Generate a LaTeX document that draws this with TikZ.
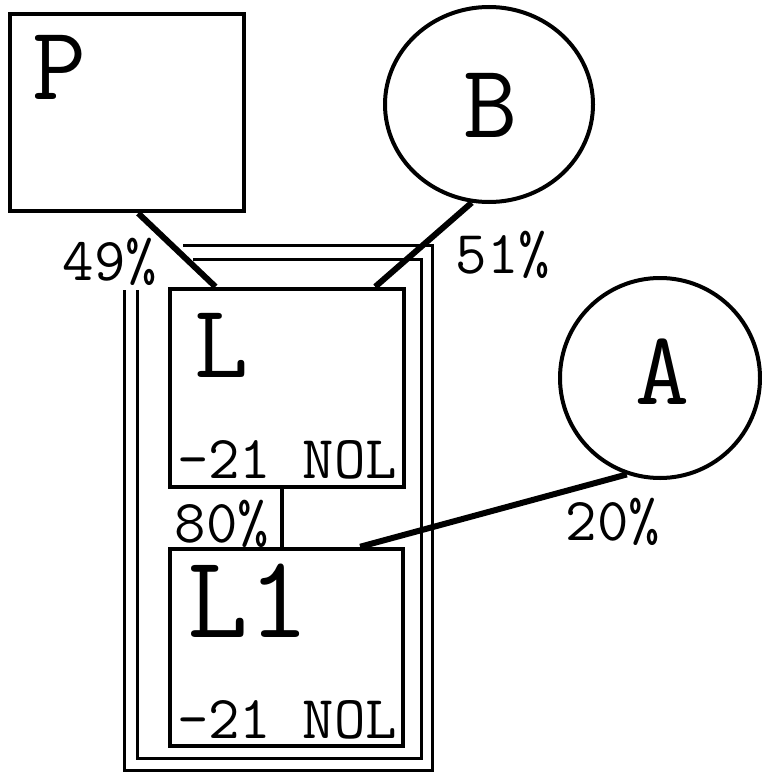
\documentclass[tikz,border=0pt]{standalone}
\usetikzlibrary{shapes.geometric,calc}

\tikzset{
  entity/.style={draw, rectangle, line width=4.5pt, inner sep=0pt, minimum width=234pt},
  owner/.style={draw, ellipse, line width=4pt, inner sep=0pt},
  share/.style={line width=6pt},
  frame/.style={line width=3pt},
  bigtxt/.style={font=\ttfamily\fontsize{105}{105}\selectfont, inner sep=0pt, anchor=base, text height=0.62em, text depth=0pt},
  smalltxt/.style={font=\ttfamily\fontsize{61}{61}\selectfont, inner sep=0pt, anchor=base, text height=0.62em, text depth=0pt},
}

\begin{document}
\begin{tikzpicture}[x=1pt,y=-1pt]
    \useasboundingbox (0,0) rectangle (762,773);
    %\draw[help lines,step=50] (0,0) grid (762,773);

    % companies
    \node[entity, minimum height=197pt] (P) at (127,112.5) {};
    \node[entity, minimum height=198pt] (L) at (287,388) {};
    \node[entity, minimum height=197pt, minimum width=233pt] (L1) at (286.5,647.5) {};
    \node[owner, minimum width=208pt, minimum height=195pt] (B) at (489,104.5) {};
    \node[owner, minimum width=200pt, minimum height=200pt] (A) at (660,378) {};

    % names
    \node[bigtxt] (Pname) at (60,100) {P};
    \node[bigtxt] (Bname) at (491,137) {B};
    \node[bigtxt] (Aname) at (663,404) {A};
    \node[bigtxt] (Lname) at (222,377) {L};
    \node[bigtxt, font=\ttfamily\fontsize{118}{118}\selectfont] (L1name) at (248,637) {L1};
    \node[smalltxt] (Lcode) at (287,478) {-21 NOL};
    \node[smalltxt] (L1code) at (287,738) {-21 NOL};

    % group frames
    \draw[frame] (193,259) -- (421,259) -- (421,758) -- (137,758) -- (137,290);
    \draw[frame] (183,245) -- (432,245) -- (432,770) -- (124,770) -- (124,290);

    % holdings
    \draw[share] ($(P.south west)!0.547!(P.south east)$) -- ($(L.north west)!0.2!(L.north east)$);
    \draw[share] (B.-100) -- ($(L.north west)!0.87!(L.north east)$);
    \draw[share] (A.-109) -- ($(L1.north west)!0.81!(L1.north east)$);
    \draw[line width=3.5pt] ($(L.south west)!0.48!(L.south east)$) coordinate (Lfoot) -- (Lfoot |- L1.north);

    \node[smalltxt] (p49) at (110,280) {49\%};
    \node[smalltxt] (p51) at (503,273) {51\%};
    \node[smalltxt] (p80) at (222,542) {80\%};
    \node[smalltxt] (p20) at (613,540) {20\%};
\end{tikzpicture}
\end{document}
